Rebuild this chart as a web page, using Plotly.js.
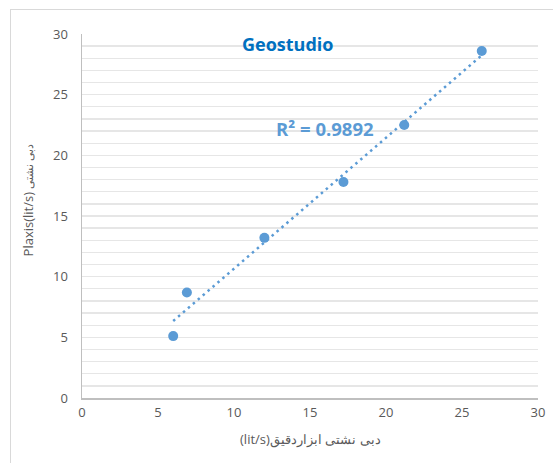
<!DOCTYPE html>
<html>
<head>
<meta charset="utf-8">
<script src="https://cdn.plot.ly/plotly-3.0.1.min.js"></script>
<style>
html,body{margin:0;padding:0;background:#fff;}
#wrap{position:relative;width:553px;height:463px;overflow:hidden;}
#frame{position:absolute;left:10px;top:9px;width:600px;height:600px;border-left:1px solid #d9d9d9;border-top:1px solid #d9d9d9;pointer-events:none;}
#chart{position:absolute;left:0;top:0;width:553px;height:463px;}
</style>
</head>
<body>
<div id="wrap"><div id="chart"></div><div id="frame"></div></div>
<script>
// Data
const geostudio = [6.0, 6.9, 12.0, 17.2, 21.2, 26.3];
const plaxis    = [5.1, 8.7, 13.2, 17.8, 22.5, 28.6];
const xTicks = [0, 5, 10, 15, 20, 25, 30];
const yTicks = [0, 5, 10, 15, 20, 25, 30];
const chartTitle = 'Geostudio';
const r2Label = 'R² = 0.9892';
const xTitle = 'دبی نشتی ابزاردقیق(lit/s)';
const yTitleLatin = 'Plaxis(lit/s)';
const yTitlePersian = 'دبی نشتی';

// linear regression for trendline
const n = geostudio.length;
const mx = geostudio.reduce((a,b)=>a+b,0)/n;
const my = plaxis.reduce((a,b)=>a+b,0)/n;
let sxy=0, sxx=0;
for (let i=0;i<n;i++){ sxy+=(geostudio[i]-mx)*(plaxis[i]-my); sxx+=(geostudio[i]-mx)**2; }
const slope = sxy/sxx, icpt = my - slope*mx;
const xmin = Math.min(...geostudio), xmax = Math.max(...geostudio);
const trendX = [xmin, xmax];
const trendY = trendX.map(v => icpt + slope*v);

const blue = '#5B9BD5';
const font = "'Open Sans', 'Liberation Sans', sans-serif";

const data = [
  {x: trendX, y: trendY, mode: 'lines', type: 'scatter',
   line: {color: blue, width: 2.5, dash: '2.5px,4px'}, hoverinfo: 'skip'},
  {x: geostudio, y: plaxis, mode: 'markers', type: 'scatter',
   marker: {color: blue, size: 10}}
];

const layout = {
  width: 553, height: 463,
  margin: {l: 82, r: 15, t: 34, b: 65},
  paper_bgcolor: '#fff', plot_bgcolor: '#fff',
  showlegend: false,
  font: {family: font, color: '#595959', size: 12},
  xaxis: {range: [0, 30], tickvals: xTicks, ticktext: xTicks.map(String),
          showgrid: false, zeroline: false, showline: true, linecolor: '#bfbfbf', linewidth: 1.5,
          ticks: '', ticklen: 0, ticklabelstandoff: 2, tickfont: {size: 13, color: '#595959'}, fixedrange: true},
  yaxis: {range: [0, 30], tickvals: yTicks, ticktext: yTicks.map(String),
          showgrid: true, gridcolor: '#e6e6e6', gridwidth: 1.3,
          minor: {dtick: 1, showgrid: true, gridcolor: '#e6e6e6', gridwidth: 1.3},
          zeroline: false, showline: true, linecolor: '#bfbfbf', linewidth: 1.5,
          ticks: '', ticklabelstandoff: 10, tickfont: {size: 13, color: '#595959'}, fixedrange: true},
  annotations: [
    {text: '<b>' + chartTitle + '</b>', xref: 'x', yref: 'y', x: 13.55, y: 29.2,
     showarrow: false, font: {family: font, size: 18, color: '#0070C0'}},
    {text: '<b>' + r2Label + '</b>', xref: 'x', yref: 'y', x: 16.0, y: 22.2,
     showarrow: false, font: {family: font, size: 18.5, color: blue}},
    {text: '\u202B' + xTitle + '\u202C', xref: 'paper', yref: 'paper', x: 0.5, y: -0.082, yanchor: 'top', xanchor: 'center',
     showarrow: false, font: {family: font, size: 13, color: '#595959'}},
    {text: yTitleLatin + ' <span style="font-size:10.5px">' + yTitlePersian + '</span>',
     xref: 'paper', yref: 'y', x: -0.118, xanchor: 'center', yanchor: 'middle', y: 16.3, textangle: -90,
     showarrow: false, font: {family: font, size: 13, color: '#595959'}}
  ]
};

Plotly.newPlot('chart', data, layout, {displayModeBar: false, staticPlot: true});
</script>
</body>
</html>
